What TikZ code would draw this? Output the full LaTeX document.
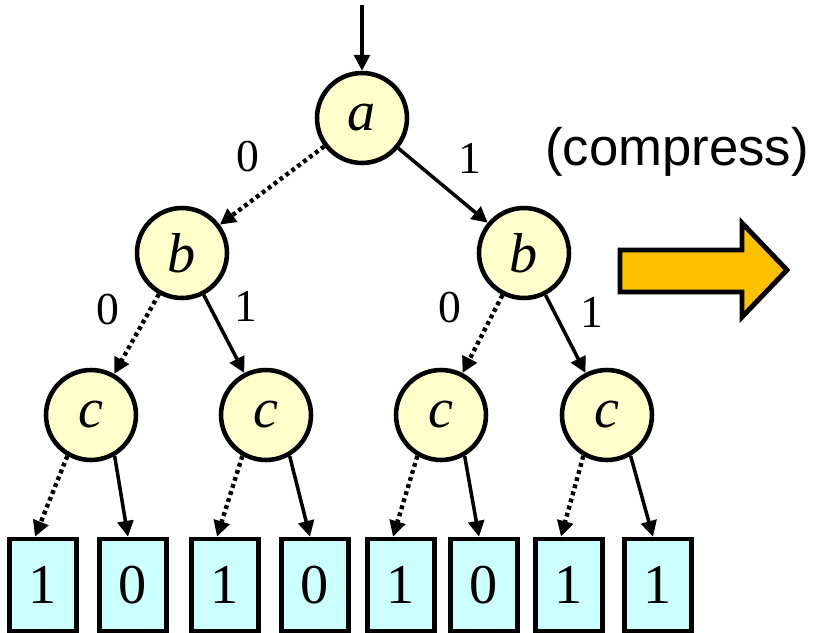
\documentclass[tikz,border=0pt]{standalone}
\usepackage{fontspec}
\setmainfont{Liberation Serif}
\newfontfamily\arialfont{Liberation Sans}
\usetikzlibrary{calc, arrows.meta}
\definecolor{varfill}{HTML}{FFFFCC}
\definecolor{leaffill}{HTML}{CCFFFF}
\definecolor{arrowfill}{HTML}{FFC000}

\begin{document}
\begin{tikzpicture}[x=0.02cm, y=-0.02cm,
	var/.style={circle, draw, line width=2.6pt, fill=varfill, minimum size=1.8cm, inner sep=0pt, font=\fontsize{32}{32}\selectfont\itshape},
	leaf/.style={rectangle, draw, line width=2.6pt, fill=leaffill, minimum width=1.34cm, minimum height=1.84cm, inner sep=0pt, font=\fontsize{32}{32}\selectfont},
	lbl/.style={font=\fontsize{26}{26}\selectfont, inner sep=0pt},
	one/.style={line width=2pt, -{Triangle[length=9pt,width=9pt]}},
	zero/.style={one, line width=2.5pt, dash pattern=on 2.2pt off 2pt}]
	\useasboundingbox (0,0) rectangle (816,633);
	% variable nodes
	\coordinate (in) at (362,5);
	\node[var] (a) at (362,118) {a};
	\node[var] (b1) at (182,253) {b};
	\node[var] (b2) at (524,253) {b};
	\foreach \x [count=\p] in {91,266,441,607} {
		\node[var] (c\p) at (\x,415) {c};
	};
	% terminal boxes
	\foreach \x/\v [count=\p] in {43/1,133/0,225/1,315/0,401/1,484/0,569/1,658/1} {
		\node[leaf] (t\p) at (\x,585) {\v};
	};
	% edges, dotted = 0, solid = 1
	\draw[one] (in) -- (a);
	\draw[zero] (a) -- (b1);
	\draw[one] (a) -- (b2);
	\draw[zero] (b1) -- (c1);
	\draw[one] (b1) -- (c2);
	\draw[zero] (b2) -- (c3);
	\draw[one] (b2) -- (c4);
	\foreach \p/\l/\r in {1/1/2,2/3/4,3/5/6,4/7/8} {
		\draw[zero] (c\p.240) -- ($(t\l.north)+(-8,0)$);
		\draw[one] (c\p.-60) -- ($(t\r.north)+(-5,0)$);
	};
	% edge labels
	\node[lbl] (e1) at (248,157) {0};
	\node[lbl] (e2) at (470,158) {1};
	\node[lbl] (e3) at (108,310) {0};
	\node[lbl] (e4) at (246,306) {1};
	\node[lbl] (e5) at (450,308) {0};
	\node[lbl] (e6) at (592,312) {1};
	% compress arrow
	\node[font=\arialfont\fontsize{30}{30}\selectfont, inner sep=0pt] (cmp) at (677,152) {(compress)};
	\draw[line width=2.8pt, fill=arrowfill] (620,250) -- (742,250) -- (742,223) -- (787,270)
		-- (742,317) -- (742,292) -- (620,292) -- cycle;
\end{tikzpicture}
\end{document}
